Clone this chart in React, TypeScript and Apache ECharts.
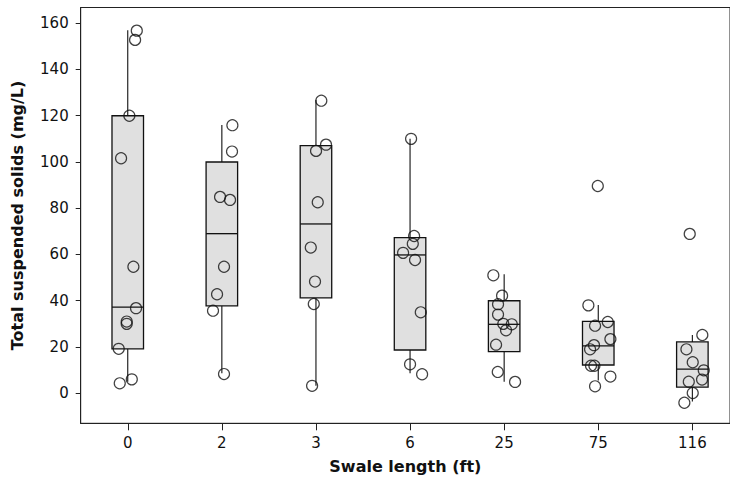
import React, { useEffect, useRef } from "react";
import * as echarts from "echarts";

const categories = ["0", "2", "3", "6", "25", "75", "116"];

const boxLow = [5, 8.6, 3.2, 8.6, 5, 5.5, -3.6];
const boxQ1 = [19.2, 37.8, 41.2, 18.7, 18.0, 12.2, 2.6];
const boxMedian = [37.2, 69.0, 73.2, 59.8, 29.8, 20.5, 10.4];
const boxQ3 = [120, 100, 107.1, 67.3, 40.0, 31.1, 22.2];
const boxHigh = [157, 116, 126.8, 110, 51.5, 38.2, 25.2];

// observed values per swale length, with their horizontal jitter (in category units)
const pts0 = [156.8, 152.8, 120.0, 101.6, 54.7, 36.8, 31.0, 30.0, 19.2, 6.0, 4.3];
const jit0 = [0.096, 0.078, 0.017, -0.071, 0.06, 0.088, -0.011, -0.011, -0.096, 0.043, -0.085];
const pts2 = [115.9, 104.5, 84.9, 83.6, 54.7, 42.8, 35.7, 8.3];
const jit2 = [0.112, 0.108, -0.019, 0.087, 0.023, -0.051, -0.094, 0.023];
const pts3 = [126.5, 107.5, 104.8, 82.6, 63.0, 48.3, 38.6, 3.2];
const jit3 = [0.057, 0.107, 0.001, 0.019, -0.055, -0.01, -0.023, -0.041];
const pts6 = [110.0, 68.0, 64.6, 60.7, 57.6, 35.0, 12.5, 8.2];
const jit6 = [0.011, 0.043, 0.029, -0.074, 0.053, 0.114, 0.0, 0.128];
const pts25 = [51.0, 42.2, 38.5, 34.0, 30.0, 29.8, 27.2, 21.0, 9.2, 4.9];
const jit25 = [-0.115, -0.022, -0.065, -0.065, -0.009, 0.081, 0.02, -0.086, -0.068, 0.116];
const pts75 = [89.6, 38.0, 30.8, 29.2, 23.4, 20.8, 19.0, 11.9, 11.9, 7.2, 3.0];
const jit75 = [-0.005, -0.105, 0.101, -0.034, 0.129, -0.045, -0.087, -0.077, -0.041, 0.129, -0.034];
const pts116 = [68.9, 25.2, 19.0, 13.4, 9.9, 5.9, 5.0, 0.1, -4.1];
const jit116 = [-0.028, 0.106, -0.063, 0.004, 0.121, 0.103, -0.038, 0.004, -0.085];

const yTicks = [0, 20, 40, 60, 80, 100, 120, 140, 160];

export default function App() {
  const ref = useRef<HTMLDivElement>(null);

  useEffect(() => {
    if (!ref.current) return;
    const chart = echarts.init(ref.current, null, { renderer: "svg" });

    const allPts = [pts0, pts2, pts3, pts6, pts25, pts75, pts116];
    const allJit = [jit0, jit2, jit3, jit6, jit25, jit75, jit116];
    const scatterData: number[][] = [];
    allPts.forEach((arr, ci) => {
      arr.forEach((v, i) => scatterData.push([ci + allJit[ci][i], v]));
    });

    const boxData = categories.map((_, i) => [
      i,
      boxLow[i],
      boxQ1[i],
      boxMedian[i],
      boxQ3[i],
      boxHigh[i],
    ]);

    const font = "'DejaVu Sans', Verdana, sans-serif";

    chart.setOption({
      animation: false,
      backgroundColor: "#ffffff",
      grid: {
        left: 80.7,
        top: 7.5,
        right: 0,
        bottom: 57.7,
        show: true,
        borderColor: "#222",
        borderWidth: 1,
        backgroundColor: "transparent",
      },
      xAxis: {
        type: "value",
        min: -0.5,
        max: 6.4,
        splitLine: { show: false },
        axisLine: { show: true, onZero: false, lineStyle: { color: "#222", width: 1 } },
        axisTick: {
          show: true,
          length: 7,
          lineStyle: { color: "#222" },
          customValues: [0, 1, 2, 3, 4, 5, 6],
        },
        axisLabel: {
          customValues: [0, 1, 2, 3, 4, 5, 6],
          formatter: (v: number) => categories[Math.round(v)] ?? "",
          color: "#111",
          fontSize: 15,
          fontFamily: font,
          margin: 12,
        },
        name: "Swale length (ft)",
        nameLocation: "middle",
        nameGap: 35,
        nameTextStyle: {
          fontWeight: "bold",
          fontSize: 16,
          color: "#111",
          fontFamily: font,
        },
      },
      yAxis: {
        type: "value",
        min: -13,
        max: 166.8,
        splitLine: { show: false },
        axisLine: { show: true, onZero: false, lineStyle: { color: "#222", width: 1 } },
        axisTick: {
          show: true,
          length: 5,
          lineStyle: { color: "#222" },
          customValues: yTicks,
        },
        axisLabel: {
          customValues: yTicks,
          color: "#111",
          fontSize: 15,
          fontFamily: font,
          margin: 12,
        },
        name: "Total suspended solids (mg/L)",
        nameLocation: "middle",
        nameGap: 55,
        nameTextStyle: {
          fontWeight: "bold",
          fontSize: 16,
          color: "#111",
          fontFamily: font,
        },
      },
      series: [
        {
          type: "custom",
          data: boxData,
          z: 2,
          renderItem: (params: any, api: any) => {
            const x = api.value(0);
            const low = api.coord([x, api.value(1)]);
            const q1 = api.coord([x, api.value(2)]);
            const med = api.coord([x, api.value(3)]);
            const q3 = api.coord([x, api.value(4)]);
            const high = api.coord([x, api.value(5)]);
            const w = api.size([0.335, 0])[0];
            const cx = q1[0];
            const stroke = { stroke: "#111", lineWidth: 1.3 };
            return {
              type: "group",
              children: [
                {
                  type: "line",
                  shape: { x1: cx, y1: q3[1], x2: cx, y2: high[1] },
                  style: { stroke: "#111", lineWidth: 1.1 },
                },
                {
                  type: "line",
                  shape: { x1: cx, y1: q1[1], x2: cx, y2: low[1] },
                  style: { stroke: "#111", lineWidth: 1.1 },
                },
                {
                  type: "rect",
                  shape: { x: cx - w / 2, y: q3[1], width: w, height: q1[1] - q3[1] },
                  style: { fill: "#e0e0e0", ...stroke },
                },
                {
                  type: "line",
                  shape: { x1: cx - w / 2, y1: med[1], x2: cx + w / 2, y2: med[1] },
                  style: stroke,
                },
              ],
            };
          },
        },
        {
          type: "scatter",
          data: scatterData,
          z: 3,
          symbol: "circle",
          symbolSize: 11,
          itemStyle: {
            color: "rgba(0,0,0,0)",
            borderColor: "#111",
            borderWidth: 1.2,
          },
        },
      ],
    });

    return () => chart.dispose();
  }, []);

  return (
    <div
      ref={ref}
      style={{ position: "fixed", left: 0, top: 0, width: 730, height: 481 }}
    />
  );
}
